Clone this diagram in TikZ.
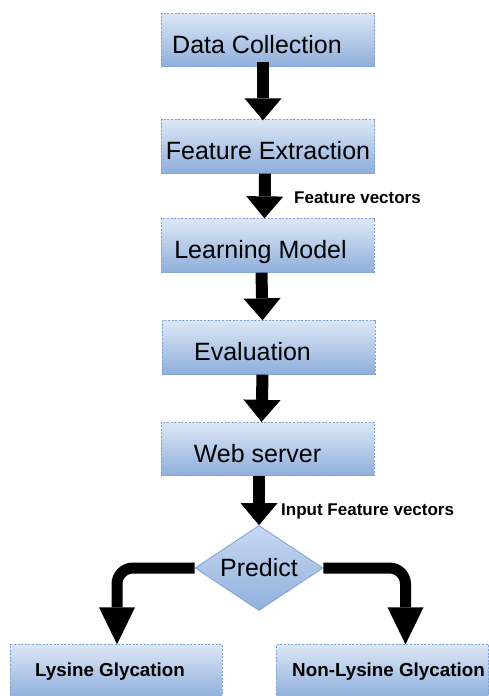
\documentclass[tikz,border=0pt]{standalone}
\usepackage{fontspec}
\setmainfont{Liberation Sans}
\usetikzlibrary{arrows.meta,shapes.geometric}
\definecolor{boxtop}{HTML}{DCE7F6}
\definecolor{boxbot}{HTML}{8EAEDB}
\definecolor{boxline}{HTML}{7FA2D6}
\definecolor{diatop}{HTML}{C8D9F1}
\definecolor{diabot}{HTML}{90B0DD}
\begin{document}
\begin{tikzpicture}[x=1pt,y=-1pt,
  stepbox/.style={rectangle, minimum width=213pt, minimum height=53.5pt, inner sep=0pt,
    top color=boxtop, bottom color=boxbot, draw=boxline, line width=0.8pt,
    dash pattern=on 2pt off 1.6pt, font=\fontsize{25}{30}\selectfont,
    text height=27pt, text depth=1pt},
  outbox/.style={stepbox, minimum width=212pt, font=\fontsize{18.8}{22}\selectfont\bfseries,
    text height=14pt, text depth=4pt},
  decision/.style={diamond, aspect=1.5, minimum width=128pt, minimum height=85pt, inner sep=0pt,
    top color=diatop, bottom color=diabot, draw=boxline, line width=0.8pt,
    font=\fontsize{25}{30}\selectfont},
  lbl/.style={font=\fontsize{17}{20}\selectfont\bfseries, inner sep=0pt},
  bigarrow/.style={line width=12pt, -{Triangle[length=22pt 0 0, width=37pt 0 0, line width=0pt]}},
  sidearrow/.style={line width=11pt, rounded corners=16pt,
    -{Triangle[length=37pt 0 0, width=36pt 0 0, line width=0pt]}}
]
\useasboundingbox (0,0) rectangle (489,696);

\node[stepbox] (dc) at (268,40) {\hspace*{-22pt}Data Collection};
\node[stepbox] (fe) at (268,146.5) {Feature Extraction};
\node[stepbox] (lm) at (267.5,245.5) {\hspace*{-14pt}Learning Model};
\node[stepbox] (ev) at (268.5,347.5) {\hspace*{-32pt}Evaluation};
\node[stepbox] (ws) at (267.5,449) {\hspace*{-20pt}Web server};
\node[decision] (p) at (259,568) {Predict};
\node[outbox] (lys) at (116,671.5) {\hspace*{-12pt}Lysine Glycation};
\node[outbox] (nl) at (382.5,671.5) {\hspace*{12pt}Non-Lysine Glycation};

\node[lbl, anchor=west] (fv) at (294,198) {Feature vectors};
\node[lbl, anchor=west] (ifv) at (281,511) {Input Feature vectors};

\draw[bigarrow] ([xshift=-5pt,yshift=5pt]dc.south) -- ([xshift=-5pt,yshift=-1pt]fe.north);
\draw[bigarrow] ([xshift=-3pt]fe.south) -- ([xshift=-3pt]lm.north);
\draw[bigarrow] ([xshift=-6pt]lm.south) -- ([xshift=-6pt]ev.north);
\draw[bigarrow] ([xshift=-6pt]ev.south) -- ([xshift=-6pt]ws.north);
\draw[bigarrow] (p.north |- ws.south) -- (p.north);
\draw[sidearrow] (p.west) -| ([xshift=1pt]lys.north);
\draw[sidearrow] (p.east) -| ([xshift=23pt]nl.north);
\end{tikzpicture}
\end{document}
